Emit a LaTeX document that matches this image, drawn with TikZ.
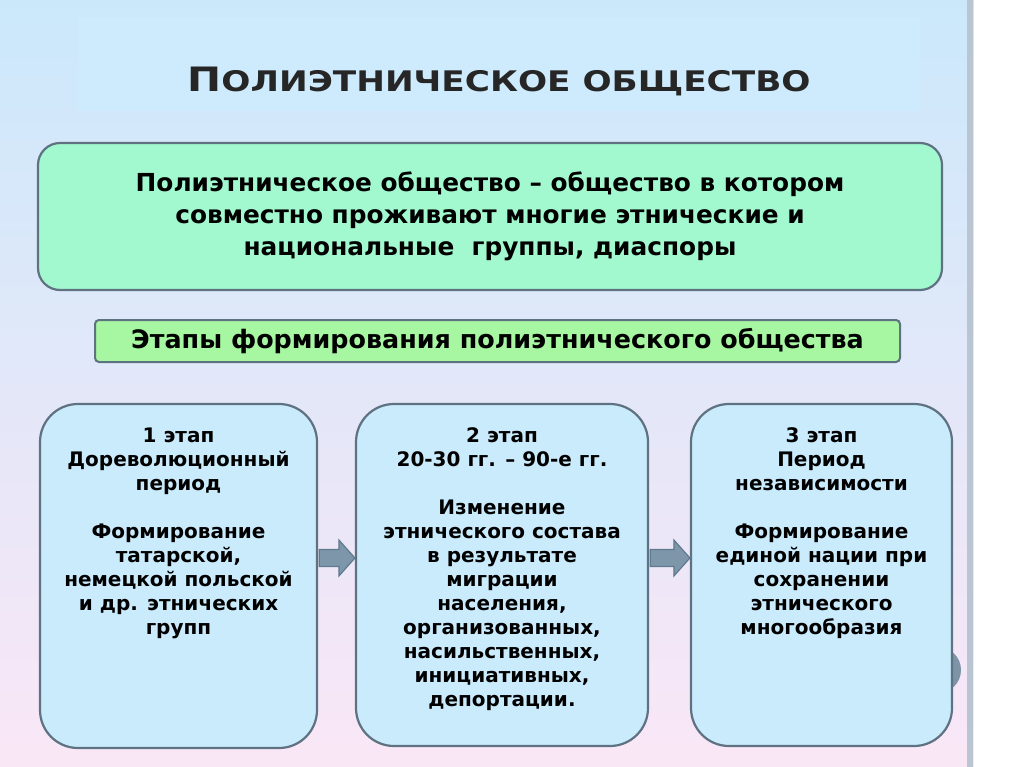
\documentclass[tikz,border=0pt]{standalone}
\usepackage{fontspec}
\setmainfont{DejaVu Sans}
\usepackage{graphicx}
\usepackage{tikz}
\usetikzlibrary{calc,positioning}
\definecolor{bgtop}{HTML}{CBE8FB}
\definecolor{bgmid}{HTML}{C6DCF3}
\definecolor{bgbot}{HTML}{FAE7F6}
\definecolor{titlefill}{HTML}{CEEBFD}
\definecolor{deffill}{HTML}{A2F9CF}
\definecolor{headfill}{HTML}{A7F6A1}
\definecolor{stagefill}{HTML}{CAEBFC}
\definecolor{edge}{HTML}{5E7282}
\definecolor{arrowfill}{HTML}{7E96AA}
\definecolor{arrowline}{HTML}{5F7A8E}
\definecolor{stripline}{HTML}{B9C5D2}
\definecolor{knob}{HTML}{7D93A6}

\begin{document}
\begin{tikzpicture}[x=1pt,y=-1pt,
  defbox/.style={draw=edge,line width=2.2pt,rounded corners=22pt,fill=deffill,
    align=center,font=\bfseries\fontsize{24.8}{32}\selectfont},
  headbox/.style={draw=edge,line width=2pt,rounded corners=4pt,fill=headfill,
    font=\bfseries\fontsize{25.4}{25.4}\selectfont},
  stagebox/.style={draw=edge,line width=2.2pt,rounded corners=38pt,fill=stagefill},
  stagetext/.style={align=center,inner sep=0pt,font=\bfseries\fontsize{20}{24}\selectfont},
  blockarrow/.style={draw=arrowline,fill=arrowfill,line width=1.2pt,
    to path={($(\tikztostart)+(0,-8.5)$) -- ($(\tikztotarget)+(-16,-8.5)$)
      -- ($(\tikztotarget)+(-16,-18)$) -- (\tikztotarget)
      -- ($(\tikztotarget)+(-16,18)$) -- ($(\tikztotarget)+(-16,8.5)$)
      -- ($(\tikztostart)+(0,8.5)$) -- cycle}}]
\useasboundingbox (0,0) rectangle (1024,767);
\shade[top color=bgtop,middle color=bgmid,bottom color=bgbot] (0,0) rectangle (974,767);
\fill[white] (974,0) rectangle (1024,767);
\fill[stripline] (967,0) rectangle (973,767);
\fill[titlefill] (78,17) rectangle (920,111);
\fill[knob] (938,670) circle (23pt);

\node[font=\bfseries,text=black!85] (title) at (499,81)
  {\scalebox{1.27}[1.05]{\fontsize{32}{32}\selectfont П\fontsize{27}{27}\selectfont ОЛИЭТНИЧЕСКОЕ ОБЩЕСТВО}};

\node[defbox,minimum width=904pt,minimum height=147pt] (def) at (490,216.5)
  {Полиэтническое общество – общество в котором\\
   совместно проживают многие этнические и\\
   национальные~~группы, диаспоры};

\node[headbox,minimum width=805pt,minimum height=42pt] (head) at (497.5,341)
  {Этапы формирования полиэтнического общества};

\node[stagebox,minimum width=277pt,minimum height=344pt] (s1) at (178.5,576) {};
\node[stagebox,minimum width=292pt,minimum height=342pt] (s2) at (502,575) {};
\node[stagebox,minimum width=261pt,minimum height=342pt] (s3) at (821.5,575) {};

\node[stagetext,below=25pt of s1.north] (t1)
  {1 этап\\ Дореволюционный\\ период\\[24pt]
   Формирование\\ татарской,\\ немецкой польской\\ и др. этнических\\ групп};
\node[stagetext,below=25pt of s2.north] (t2)
  {2 этап\\ 20-30 гг. – 90-е гг.\\[24pt]
   Изменение\\ этнического состава\\ в результате\\ миграции\\ населения,\\
   организованных,\\ насильственных,\\ инициативных,\\ депортации.};
\node[stagetext,below=25pt of s3.north] (t3)
  {3 этап\\ Период\\ независимости\\[24pt]
   Формирование\\ единой нации при\\ сохранении\\ этнического\\ многообразия};

\coordinate (a1) at ($(s1.east)+(1.2,-18)$);
\coordinate (b1) at ($(s2.west)+(0,-17)$);
\coordinate (a2) at ($(s2.east)+(1.2,-17)$);
\coordinate (b2) at ($(s3.west)+(0,-17)$);
\draw[blockarrow] (a1) to (b1);
\draw[blockarrow] (a2) to (b2);
\end{tikzpicture}
\end{document}
